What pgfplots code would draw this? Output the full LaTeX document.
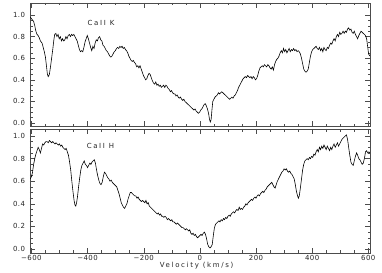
\documentclass[border=0pt]{standalone}
\usepackage{fontspec}
\setmainfont{DejaVu Sans}[LetterSpace=6]
\newfontfamily\labfont{DejaVu Sans}[LetterSpace=24]
\usepackage{pgfplots}
\pgfplotsset{compat=1.18}

\pgfplotstableread{
v y
-604 0.98
-598 0.96
-592 0.94
-588 0.90
-584 0.85
-580 0.82
-576 0.81
-572 0.79
-568 0.76
-562 0.74
-558 0.70
-554 0.66
-550 0.61
-546 0.52
-543 0.45
-540 0.43
-536 0.45
-532 0.52
-528 0.60
-524 0.68
-520 0.77
-517 0.82
-513 0.83
-509 0.80
-505 0.82
-501 0.78
-497 0.80
-493 0.76
-489 0.78
-485 0.76
-481 0.77
-477 0.80
-473 0.78
-469 0.81
-465 0.82
-461 0.80
-457 0.82
-453 0.81
-449 0.82
-445 0.80
-441 0.78
-437 0.76
-433 0.72
-429 0.68
-425 0.66
-421 0.67
-417 0.66
-413 0.70
-409 0.75
-405 0.78
-401 0.81
-397 0.78
-393 0.74
-389 0.70
-385 0.67
-381 0.71
-377 0.69
-373 0.74
-369 0.77
-365 0.76
-361 0.79
-357 0.80
-353 0.77
-349 0.76
-345 0.72
-341 0.71
-337 0.69
-333 0.67
-329 0.66
-325 0.64
-321 0.62
-317 0.61
-313 0.62
-309 0.64
-305 0.66
-301 0.67
-297 0.69
-293 0.70
-289 0.69
-285 0.71
-281 0.70
-277 0.71
-273 0.69
-269 0.70
-265 0.68
-261 0.67
-257 0.65
-253 0.62
-249 0.60
-245 0.58
-241 0.57
-237 0.58
-233 0.56
-229 0.55
-225 0.52
-221 0.53
-217 0.51
-213 0.53
-209 0.50
-205 0.47
-201 0.44
-197 0.42
-193 0.40
-189 0.41
-185 0.44
-181 0.46
-177 0.45
-173 0.42
-169 0.39
-165 0.37
-161 0.36
-157 0.38
-153 0.35
-149 0.36
-145 0.34
-141 0.35
-137 0.33
-133 0.34
-129 0.35
-125 0.33
-121 0.35
-117 0.34
-113 0.32
-109 0.31
-105 0.29
-101 0.30
-97 0.28
-93 0.27
-89 0.27
-85 0.25
-81 0.26
-77 0.24
-73 0.23
-69 0.24
-65 0.22
-61 0.21
-57 0.22
-53 0.20
-49 0.19
-45 0.18
-41 0.17
-37 0.16
-33 0.15
-29 0.14
-25 0.13
-21 0.12
-17 0.13
-13 0.11
-9 0.10
-5 0.09
-1 0.10
3 0.12
7 0.13
11 0.15
15 0.17
19 0.18
23 0.16
27 0.13
31 0.09
34 0.04
37 0.01
40 0.03
43 0.12
46 0.20
50 0.22
54 0.24
58 0.25
62 0.26
66 0.28
70 0.27
74 0.28
78 0.29
82 0.28
86 0.27
90 0.26
94 0.25
98 0.24
102 0.23
106 0.22
110 0.23
114 0.24
118 0.23
122 0.25
126 0.26
130 0.28
134 0.30
138 0.33
142 0.35
146 0.37
150 0.39
154 0.41
158 0.42
162 0.43
166 0.42
170 0.44
174 0.43
178 0.42
182 0.43
186 0.41
190 0.43
194 0.42
198 0.40
202 0.41
206 0.44
210 0.48
214 0.51
218 0.52
222 0.53
226 0.52
230 0.54
234 0.53
238 0.52
242 0.54
246 0.53
250 0.51
254 0.50
258 0.52
262 0.49
266 0.54
270 0.57
274 0.59
278 0.60
282 0.62
286 0.65
290 0.67
294 0.65
298 0.69
302 0.66
306 0.68
310 0.65
314 0.67
318 0.69
322 0.66
326 0.68
330 0.67
334 0.69
338 0.67
342 0.68
346 0.66
350 0.67
354 0.66
358 0.64
362 0.60
366 0.55
370 0.50
374 0.48
378 0.47
382 0.48
386 0.50
390 0.56
394 0.62
398 0.66
402 0.68
406 0.69
410 0.70
414 0.71
418 0.69
422 0.68
426 0.70
430 0.67
434 0.69
438 0.66
442 0.70
446 0.68
450 0.67
454 0.70
458 0.69
462 0.72
466 0.74
470 0.73
474 0.76
478 0.78
482 0.76
486 0.80
490 0.82
494 0.80
498 0.84
502 0.82
506 0.83
510 0.85
514 0.83
518 0.85
522 0.84
526 0.87
530 0.88
534 0.86
538 0.87
542 0.84
546 0.83
550 0.85
554 0.82
558 0.80
562 0.78
566 0.81
570 0.83
574 0.85
578 0.84
582 0.83
586 0.82
590 0.81
594 0.78
598 0.70
601 0.64
605 0.62
}\caiik

\pgfplotstableread{
v y
-604 0.62
-600 0.64
-596 0.68
-592 0.75
-588 0.80
-584 0.84
-580 0.87
-576 0.90
-572 0.88
-568 0.85
-564 0.89
-560 0.93
-556 0.92
-552 0.94
-548 0.95
-544 0.95
-540 0.94
-536 0.96
-532 0.95
-528 0.94
-524 0.95
-520 0.94
-516 0.93
-512 0.94
-508 0.93
-504 0.92
-500 0.93
-496 0.91
-492 0.92
-488 0.90
-484 0.89
-480 0.88
-476 0.89
-472 0.86
-468 0.83
-464 0.77
-460 0.70
-456 0.60
-452 0.51
-448 0.43
-445 0.39
-442 0.38
-439 0.41
-436 0.46
-432 0.55
-428 0.63
-424 0.70
-420 0.74
-416 0.76
-412 0.78
-408 0.75
-404 0.74
-400 0.72
-396 0.74
-392 0.76
-388 0.75
-384 0.77
-380 0.78
-376 0.79
-372 0.76
-368 0.70
-364 0.65
-360 0.61
-356 0.58
-352 0.57
-348 0.59
-344 0.64
-340 0.68
-336 0.67
-332 0.65
-328 0.63
-324 0.62
-320 0.60
-316 0.61
-312 0.59
-308 0.58
-304 0.57
-300 0.56
-296 0.55
-292 0.52
-288 0.49
-284 0.45
-280 0.41
-276 0.39
-272 0.37
-268 0.36
-264 0.38
-260 0.40
-256 0.44
-252 0.47
-248 0.50
-244 0.50
-240 0.49
-236 0.48
-232 0.47
-228 0.47
-224 0.45
-220 0.46
-216 0.44
-212 0.43
-208 0.42
-204 0.43
-200 0.42
-196 0.41
-192 0.43
-188 0.40
-184 0.41
-180 0.38
-176 0.37
-172 0.36
-168 0.35
-164 0.34
-160 0.33
-156 0.32
-152 0.31
-148 0.32
-144 0.30
-140 0.31
-136 0.29
-132 0.29
-128 0.28
-124 0.29
-120 0.28
-116 0.26
-112 0.27
-108 0.26
-104 0.25
-100 0.26
-96 0.24
-92 0.24
-88 0.23
-84 0.22
-80 0.23
-76 0.22
-72 0.21
-68 0.20
-64 0.19
-60 0.19
-56 0.18
-52 0.17
-48 0.18
-44 0.17
-40 0.16
-36 0.17
-32 0.14
-28 0.13
-24 0.14
-20 0.12
-16 0.13
-12 0.11
-8 0.10
-4 0.11
0 0.12
4 0.13
8 0.12
12 0.14
16 0.15
20 0.13
24 0.09
28 0.04
32 0.02
36 0.01
40 0.02
44 0.04
48 0.12
52 0.19
56 0.22
60 0.23
64 0.24
68 0.25
72 0.24
76 0.26
80 0.25
84 0.27
88 0.26
92 0.28
96 0.27
100 0.29
104 0.30
108 0.29
112 0.31
116 0.32
120 0.33
124 0.32
128 0.34
132 0.35
136 0.34
140 0.37
144 0.35
148 0.36
152 0.35
156 0.37
160 0.38
164 0.40
168 0.39
172 0.41
176 0.42
180 0.43
184 0.44
188 0.43
192 0.45
196 0.46
200 0.45
204 0.47
208 0.48
212 0.47
216 0.49
220 0.50
224 0.51
228 0.50
232 0.52
236 0.53
240 0.55
244 0.56
248 0.57
252 0.58
256 0.59
260 0.57
264 0.55
268 0.54
272 0.57
276 0.60
280 0.62
284 0.64
288 0.66
292 0.68
296 0.69
300 0.71
304 0.70
308 0.71
312 0.69
316 0.68
320 0.69
324 0.67
328 0.66
332 0.64
336 0.62
340 0.57
344 0.51
348 0.47
351 0.45
354 0.47
358 0.54
362 0.62
366 0.70
370 0.75
374 0.78
378 0.79
382 0.80
386 0.79
390 0.81
394 0.80
398 0.82
402 0.81
406 0.84
410 0.83
414 0.86
418 0.88
422 0.86
426 0.90
430 0.88
434 0.91
438 0.89
442 0.92
446 0.90
450 0.88
454 0.91
458 0.89
462 0.87
466 0.90
470 0.88
474 0.91
478 0.93
482 0.90
486 0.92
490 0.94
494 0.91
498 0.93
502 0.95
506 0.97
510 0.98
514 0.99
518 1.00
522 1.01
526 0.97
530 0.90
534 0.83
538 0.77
542 0.75
546 0.74
550 0.78
554 0.82
558 0.85
562 0.83
566 0.80
570 0.79
574 0.77
578 0.75
582 0.76
586 0.80
590 0.86
594 0.87
598 0.85
602 0.86
605 0.85
}\caiih

\pgfplotsset{idl/.style={
  scale only axis, width=340bp,
  xmin=-605, xmax=606,
  xtick={-600,-400,-200,0,200,400,600}, minor x tick num=3,
  ytick={0,0.2,0.4,0.6,0.8,1.0}, minor y tick num=3,
  tick align=inside, major tick length=5bp, minor tick length=2.5bp,
  axis line style={black!70, line width=0.5pt},
  every tick/.style={black!70, line width=0.4pt},
  tick label style={font=\fontsize{7}{8}\selectfont, text=black!85},
  /pgf/number format/assume math mode=true,
  yticklabel style={/pgf/number format/fixed, /pgf/number format/fixed zerofill, /pgf/number format/precision=1, xshift=-1.5bp},
  xticklabel style={yshift=1.5bp},
  clip=true,
}}

\begin{document}
\begin{tikzpicture}
\useasboundingbox (0,0) rectangle (382bp,273bp);
\begin{axis}[idl, at={(30bp,270bp)}, anchor=north west, height=123.5bp,
  ymin=-0.032, ymax=1.111, xticklabels={}]
  \addplot[black, line width=0.6pt] table[x=v, y=y] {\caiik};
  \node[font=\labfont\fontsize{7}{8}\selectfont, text=black!85] at (axis cs:-352,0.93) {CaII K};
\end{axis}
\begin{axis}[idl, at={(30bp,20bp)}, anchor=south west, height=124bp,
  ymin=-0.035, ymax=1.062,
  xticklabels={−600,−400,−200,0,200,400,600},
  xlabel={\labfont Velocity (km/s)},
  xlabel style={font=\fontsize{7}{8}\selectfont, text=black!85, at={(axis description cs:0.49,0)}, anchor=center, yshift=-13bp}]
  \addplot[black, line width=0.6pt] table[x=v, y=y] {\caiih};
  \node[font=\labfont\fontsize{7}{8}\selectfont, text=black!85] at (axis cs:-354,0.91) {CaII H};
\end{axis}
\end{tikzpicture}
\end{document}
